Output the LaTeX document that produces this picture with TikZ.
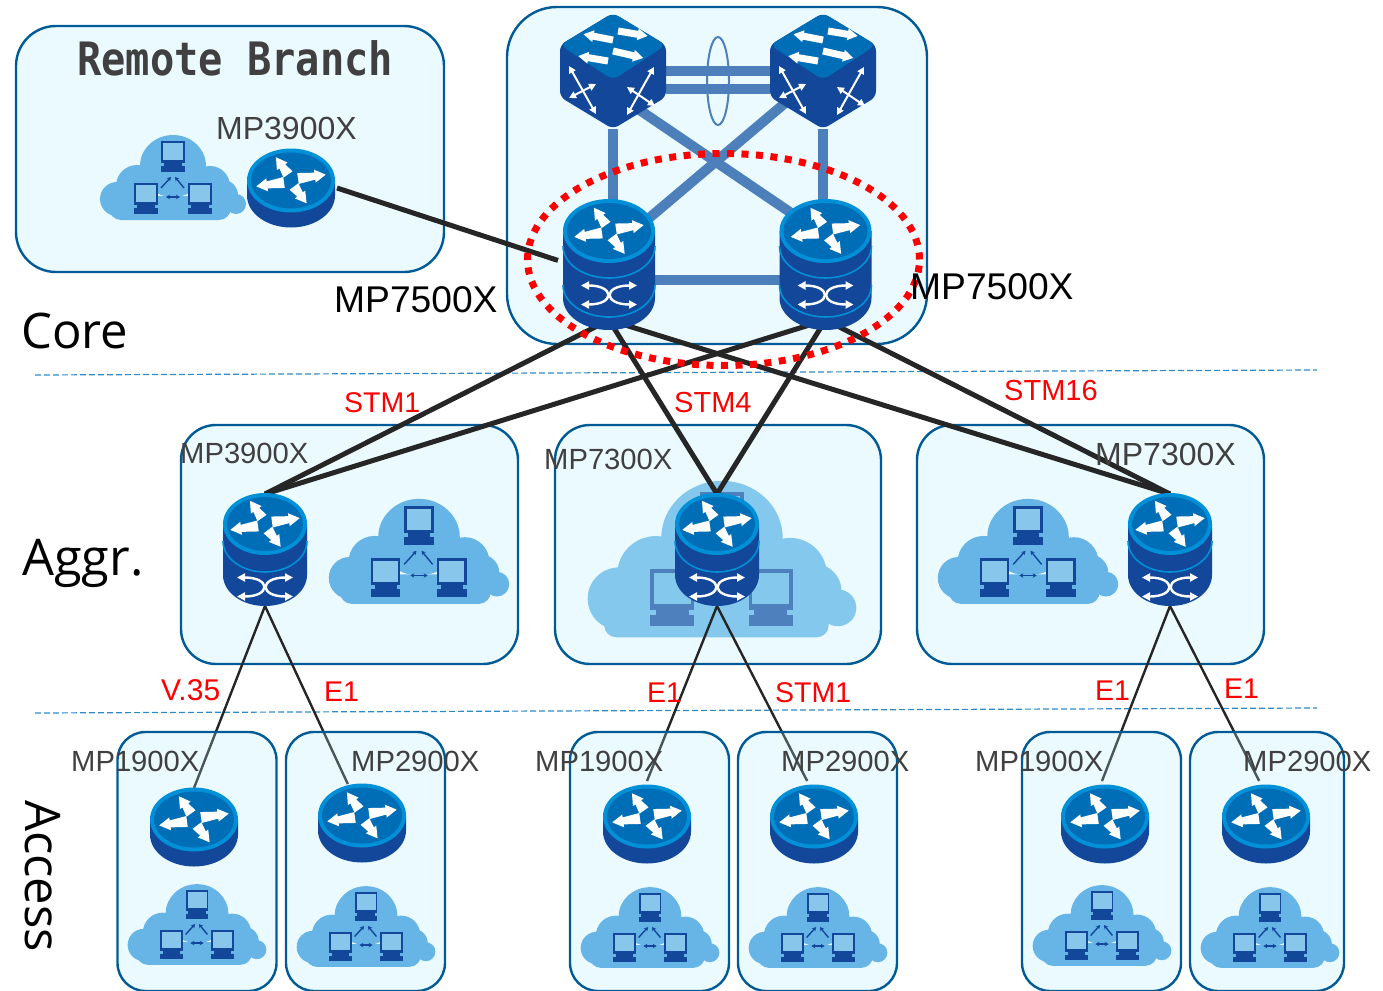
\documentclass[tikz,border=0pt]{standalone}
\usepackage{fontspec}
\usetikzlibrary{positioning}
\usetikzlibrary{arrows.meta}
\usetikzlibrary{shapes.geometric}
\setmainfont{Liberation Sans}
\newfontfamily\tierfont{Open Sans}
\newfontfamily\titlefont{DejaVu Sans Mono}

\definecolor{panelblue}{RGB}{0,90,150}
\definecolor{panelfill}{RGB}{235,250,255}
\definecolor{accessfill}{RGB}{175,235,255}
\definecolor{linkblue}{RGB}{77,127,186}
\definecolor{deepblue}{RGB}{19,71,154}
\definecolor{topblue}{RGB}{0,110,183}
\definecolor{rimblue}{RGB}{0,144,215}
\definecolor{cloudblue}{RGB}{102,181,230}
\definecolor{screenblue}{RGB}{136,198,235}
\definecolor{paleblue}{RGB}{133,200,238}
\definecolor{fadeblue}{RGB}{77,128,188}
\definecolor{dashblue}{RGB}{46,139,200}
\definecolor{wireblack}{RGB}{38,38,38}
\definecolor{textgray}{RGB}{64,64,64}

\newcommand{\lanscreen}[4]{
	\fill[#3] (#1-12,#2) rectangle (#1+12,#2+22);
	\fill[#4] (#1-10,#2+2) rectangle (#1+10,#2+19);
	\fill[#3] (#1-9,#2+22) rectangle (#1+9,#2+25);
	\fill[#3] (#1-12,#2+25) rectangle (#1+12,#2+31);
}
\newcommand{\drawlan}[3]{
	\fill[#1] (0,-12) ellipse [x radius=33, y radius=31];
	\fill[#1] (-36,8) circle [radius=21];
	\fill[#1] (37,8) circle [radius=20];
	\fill[#1] (-56,21) circle [radius=17];
	\fill[#1] (50,17) circle [radius=15];
	\fill[#1] (63,26) circle [radius=10];
	\fill[#1, rounded corners=12pt] (-64,18) rectangle (58,42);
	\lanscreen{0}{-37}{#2}{#3}
	\lanscreen{-27}{5}{#2}{#3}
	\lanscreen{26.5}{5}{#2}{#3}
	\draw[#2, line width=1.4pt, -{Stealth[length=4pt,width=4.5pt]}] (-12,10) -- (-2,-1);
	\draw[#2, line width=1.4pt, -{Stealth[length=4pt,width=4.5pt]}] (11,10) -- (2,-1);
	\draw[#2, line width=1.4pt, {Stealth[length=4pt,width=4.5pt]}-{Stealth[length=4pt,width=4.5pt]}] (-7,19) -- (7,19);
}
\newcommand{\fatarrow}[4]{
	\fill[white, shift={(#1,#2)}, rotate=#3] (0,-5.5) -- (#4-11,-3.5) -- (#4-11,-6.5) -- (#4,0) -- (#4-11,6.5) -- (#4-11,3.5) -- (0,5.5) -- cycle;
}
\newcommand{\slimarrow}[4]{
	\fill[white, shift={(#1,#2)}, rotate=#3] (0,-3.5) -- (#4-10,-3.5) -- (#4-10,-6) -- (#4,0) -- (#4-10,6) -- (#4-10,3.5) -- (0,3.5) -- cycle;
}
\newcommand{\crossarrows}{
	\fatarrow{-3}{-6}{125}{21}
	\fatarrow{7}{-2}{8}{28}
	\fatarrow{3}{6}{-53}{21}
	\fatarrow{-7}{2}{188}{28}
}
\newcommand{\crosscurve}{
	\draw[whitecurve] (-28,-9.5) .. controls (6,-9.5) and (6,9.5) .. (-28,9.5);
	\draw[whitecurve] (28,-9.5) .. controls (-6,-9.5) and (-6,9.5) .. (28,9.5);
}
\newcommand{\drawstack}[4]{
	\fill[deepblue] (-#1,#3) -- (-#1,#4) arc [start angle=180, end angle=0, x radius=#1, y radius=#2] -- (#1,#3) -- cycle;
	\fill[rimblue] (0,#3) ellipse [x radius=#1, y radius=#2];
	\fill[topblue] (0,#3) ellipse [x radius=#1-4, y radius=#2-4];
}

\tikzset{
	panelbox/.style={draw=panelblue, line width=2.4pt, fill=panelfill, rounded corners=35pt, inner sep=0pt, outer sep=0pt},
	accessbox/.style={draw=panelblue, line width=2.4pt, fill=accessfill, fill opacity=0.25, rounded corners=28pt, inner sep=0pt, outer sep=0pt, minimum width=159pt, minimum height=259pt},
	devicenode/.style={inner sep=0pt, outer sep=0pt},
	corenode/.style={devicenode, minimum width=102pt, minimum height=112pt},
	aggrnode/.style={devicenode, minimum width=84pt, minimum height=112pt},
	edgenode/.style={devicenode, minimum width=88pt, minimum height=78pt},
	switchnode/.style={devicenode, minimum width=106pt, minimum height=116pt},
	trunk/.style={linkblue, line width=10pt},
	uplink/.style={wireblack, line width=5pt},
	downlink/.style={wireblack, line width=2.4pt},
	tierline/.style={dashblue, line width=1.2pt, dash pattern=on 6pt off 3pt},
	whitecurve/.style={draw=white, line width=2.4pt, {Triangle[width=8pt,length=8pt]}-{Triangle[width=8pt,length=8pt]}},
	whitecross/.style={draw=white, line width=2pt, {Triangle[width=7pt,length=7pt]}-{Triangle[width=7pt,length=7pt]}},
	ringline/.style={rimblue, line width=1.6pt},
	label/.style={inner sep=0pt, anchor=base west},
	redlabel/.style={label, red, font=\fontsize{28.5}{30}\selectfont},
	modellabel/.style={label, textgray, font=\fontsize{29.2}{31}\selectfont},
	tierlabel/.style={label, font=\tierfont\fontsize{49}{52}\selectfont},
	lanpic/.pic={\drawlan{cloudblue}{deepblue}{screenblue}},
	fadedlan/.pic={\drawlan{paleblue}{fadeblue}{paleblue}},
	flatrouter/.pic={
		\fill[deepblue] (-44,-7.5) -- (-44,7.5) arc [start angle=180, end angle=0, x radius=44, y radius=32] -- (44,-7.5) -- cycle;
		\fill[rimblue] (0,-7.5) ellipse [x radius=44, y radius=32];
		\fill[topblue] (0,-7.5) ellipse [x radius=40, y radius=28];
		\begin{scope}[shift={(0,-7.5)}]
			\crossarrows
		\end{scope}
	},
	corestack/.pic={
		\drawstack{46}{32}{-33}{34}
		\draw[ringline] (-46,-18) arc [start angle=180, end angle=0, x radius=46, y radius=32];
		\draw[ringline] (-46,21) arc [start angle=180, end angle=0, x radius=46, y radius=32];
		\begin{scope}[shift={(0,-33)}]
			\crossarrows
		\end{scope}
		\begin{scope}[shift={(0,31)}]
			\crosscurve
		\end{scope}
	},
	aggrstack/.pic={
		\drawstack{42}{31}{-26}{25}
		\draw[ringline] (-42,-9) arc [start angle=180, end angle=0, x radius=42, y radius=31];
		\begin{scope}[shift={(0,-26)}]
			\crossarrows
		\end{scope}
		\begin{scope}[shift={(0,37)}]
			\crosscurve
		\end{scope}
	},
	coreswitch/.pic={
		\fill[deepblue, rounded corners=6pt] (0,-58) -- (53,-26) -- (53,26) -- (0,58) -- (-53,26) -- (-53,-26) -- cycle;
		\fill[topblue, rounded corners=7pt] (0,-58) -- (53,-26) -- (0,9) -- (-53,-26) -- cycle;
		\slimarrow{0}{-31}{169}{30}
		\slimarrow{5}{-40}{-9.5}{30}
		\slimarrow{-5}{-10}{170.5}{30}
		\slimarrow{0}{-20}{-13}{31}
		\draw[whitecross] (-44,-5) -- (-17,43);
		\draw[whitecross] (-44,27) -- (-17,13);
		\draw[whitecross] (41,-4) -- (14,44);
		\draw[whitecross] (14,16) -- (42,35);
	},
}

\begin{document}
\begin{tikzpicture}[x=1pt, y=-1pt]
	\useasboundingbox (0,0) rectangle (1383,990);

	\node[panelbox, rounded corners=40pt, minimum width=428pt, minimum height=246pt] (remoteBox) at (230,149) {};
	\node[panelbox, rounded corners=50pt, minimum width=420pt, minimum height=337pt] (coreBox) at (717,175.5) {};
	\node[panelbox, minimum width=337pt, minimum height=239pt] (aggrBoxA) at (349.5,544.5) {};
	\node[panelbox, minimum width=326pt, minimum height=239pt] (aggrBoxB) at (718,544.5) {};
	\node[panelbox, minimum width=347pt, minimum height=239pt] (aggrBoxC) at (1090.5,544.5) {};

	\node[switchnode] (swA) at (613,71) {};
	\node[switchnode] (swB) at (823,71) {};
	\node[corenode] (coreA) at (609,264) {};
	\node[corenode] (coreB) at (825.5,264) {};
	\node[edgenode, minimum width=92pt] (remoteR) at (291,188) {};
	\node[aggrnode] (aggrA) at (265,550) {};
	\node[aggrnode] (aggrB) at (717,550) {};
	\node[aggrnode] (aggrC) at (1170,550) {};
	\node[edgenode] (accA) at (194,827) {};
	\node[edgenode] (accB) at (362,823) {};
	\node[edgenode, minimum height=86pt] (accC) at (647,824) {};
	\node[edgenode, minimum height=86pt] (accD) at (814,824) {};
	\node[edgenode, minimum height=86pt] (accE) at (1105,824) {};
	\node[edgenode, minimum height=86pt] (accF) at (1266,824) {};

	\coordinate (tierTopL) at (35,375);
	\coordinate (tierTopR) at (1317,370);
	\coordinate (tierLowL) at (35,713);
	\coordinate (tierLowR) at (1317,708);
	\coordinate (crossA) at (613,92);
	\coordinate (crossB) at (825,236);
	\coordinate (crossC) at (609,252);
	\coordinate (trunkA) at (609,280);
	\coordinate (trunkB) at (825,280);

	\draw[trunk] (swA.east) -- (swB.west);
	\draw[trunk] (swA.-19) -- (swB.199);
	\draw[trunk] (swA.south) -- (swA.south |- coreA.north);
	\draw[trunk] (swB.south) -- (swB.south |- coreB.north);
	\draw[trunk] (crossA) -- (crossB);
	\draw[trunk] (swB.center) -- (crossC);
	\draw[trunk] (trunkA) -- (trunkB);

	\draw[tierline] (tierTopL) -- (tierTopR);
	\draw[tierline] (tierLowL) -- (tierLowR);

	\pic[scale=1.84] at (722,560) {fadedlan};

	\draw[uplink] (remoteR.east) -- (coreA.176);
	\draw[uplink] (coreA.south) -- (aggrA.north);
	\draw[uplink] (coreA.south) -- (aggrB.north);
	\draw[uplink] (coreA.south) -- (aggrC.north);
	\draw[uplink] (coreB.south) -- (aggrA.north);
	\draw[uplink] (coreB.south) -- (aggrB.north);
	\draw[uplink] (coreB.south) -- (aggrC.north);

	\draw[downlink] (aggrA.south) -- (accA.north);
	\draw[downlink] (aggrA.south) -- (accB.110);
	\draw[downlink] (aggrB.south) -- (accC.north);
	\draw[downlink] (aggrB.south) -- (accD.99);
	\draw[downlink] (aggrC.south) -- (accE.94);
	\draw[downlink] (aggrC.south) -- (accF.99);

	\node[accessbox] (accBoxA) at (197,861.5) {};
	\node[accessbox] (accBoxB) at (365.5,861.5) {};
	\node[accessbox] (accBoxC) at (649.5,861.5) {};
	\node[accessbox] (accBoxD) at (817.5,861.5) {};
	\node[accessbox] (accBoxE) at (1101.5,861.5) {};
	\node[accessbox, minimum width=154pt] (accBoxF) at (1267,861.5) {};

	\pic[scale=1] at (173,178) {lanpic};
	\pic[scale=1.236] at (419,552) {lanpic};
	\pic[scale=1.236] at (1028,552) {lanpic};
	\pic[scale=0.95] at (197,925) {lanpic};
	\pic[scale=0.95] at (366,927) {lanpic};
	\pic[scale=0.95] at (650,928) {lanpic};
	\pic[scale=0.95] at (818,928) {lanpic};
	\pic[scale=0.95] at (1102,926) {lanpic};
	\pic[scale=0.95] at (1270,928) {lanpic};

	\pic at (swA) {coreswitch};
	\pic at (swB) {coreswitch};
	\pic at (coreA) {corestack};
	\pic at (coreB) {corestack};
	\pic at (aggrA) {aggrstack};
	\pic at (aggrB) {aggrstack};
	\pic at (aggrC) {aggrstack};
	\pic at (remoteR) {flatrouter};
	\pic at (accA) {flatrouter};
	\pic at (accB) {flatrouter};
	\pic at (accC) {flatrouter};
	\pic at (accD) {flatrouter};
	\pic at (accE) {flatrouter};
	\pic at (accF) {flatrouter};

	\node[draw=linkblue, line width=2pt, ellipse, inner sep=0pt, minimum width=22pt, minimum height=88pt] (lagRing) at (718,81) {};
	\node[draw=red, line width=7pt, ellipse, inner sep=0pt, dash pattern=on 7pt off 7.5pt, minimum width=392pt, minimum height=212pt] (coreRing) at (723.5,259.5) {};

	% Labels
	\node[label, xscale=0.878, textgray, font=\titlefont\bfseries\fontsize{46}{48}\selectfont] (remoteTitle) at (77,75) {Remote Branch};
	\node[tierlabel] (tierCore) at (21,348) {Core};
	\node[tierlabel, font=\tierfont\fontsize{50.5}{52}\selectfont] (tierAggr) at (22,575) {Aggr.};
	\node[tierlabel, rotate=-90] (tierAccess) at (25,800) {Access};

	\node[label, font=\fontsize{37.2}{39}\selectfont] (nameCoreA) at (334,312) {MP7500X};
	\node[label, font=\fontsize{37.2}{39}\selectfont] (nameCoreB) at (910,299) {MP7500X};
	\node[modellabel, font=\fontsize{32}{34}\selectfont] (nameRemote) at (216,139) {MP3900X};
	\node[modellabel] (nameAggrA) at (180,463) {MP3900X};
	\node[modellabel] (nameAggrB) at (544,469) {MP7300X};
	\node[modellabel, font=\fontsize{32}{34}\selectfont] (nameAggrC) at (1095,465) {MP7300X};
	\node[modellabel] (nameAccA) at (71,771) {MP1900X};
	\node[modellabel] (nameAccB) at (351,771) {MP2900X};
	\node[modellabel] (nameAccC) at (535,771) {MP1900X};
	\node[modellabel] (nameAccD) at (781,771) {MP2900X};
	\node[modellabel] (nameAccE) at (975,771) {MP1900X};
	\node[modellabel] (nameAccF) at (1243,771) {MP2900X};

	\node[redlabel] (linkSA) at (344,412) {STM1};
	\node[redlabel, font=\fontsize{29}{31}\selectfont] (linkSB) at (674,412) {STM4};
	\node[redlabel, font=\fontsize{29}{31}\selectfont] (linkSC) at (1004,400) {STM16};
	\node[redlabel, font=\fontsize{30}{32}\selectfont] (linkV) at (161,700) {V.35};
	\node[redlabel] (linkEA) at (324,701) {E1};
	\node[redlabel] (linkEB) at (647,702) {E1};
	\node[redlabel] (linkSD) at (775,702) {STM1};
	\node[redlabel] (linkEC) at (1095,700) {E1};
	\node[redlabel] (linkED) at (1224,698) {E1};
\end{tikzpicture}
\end{document}
